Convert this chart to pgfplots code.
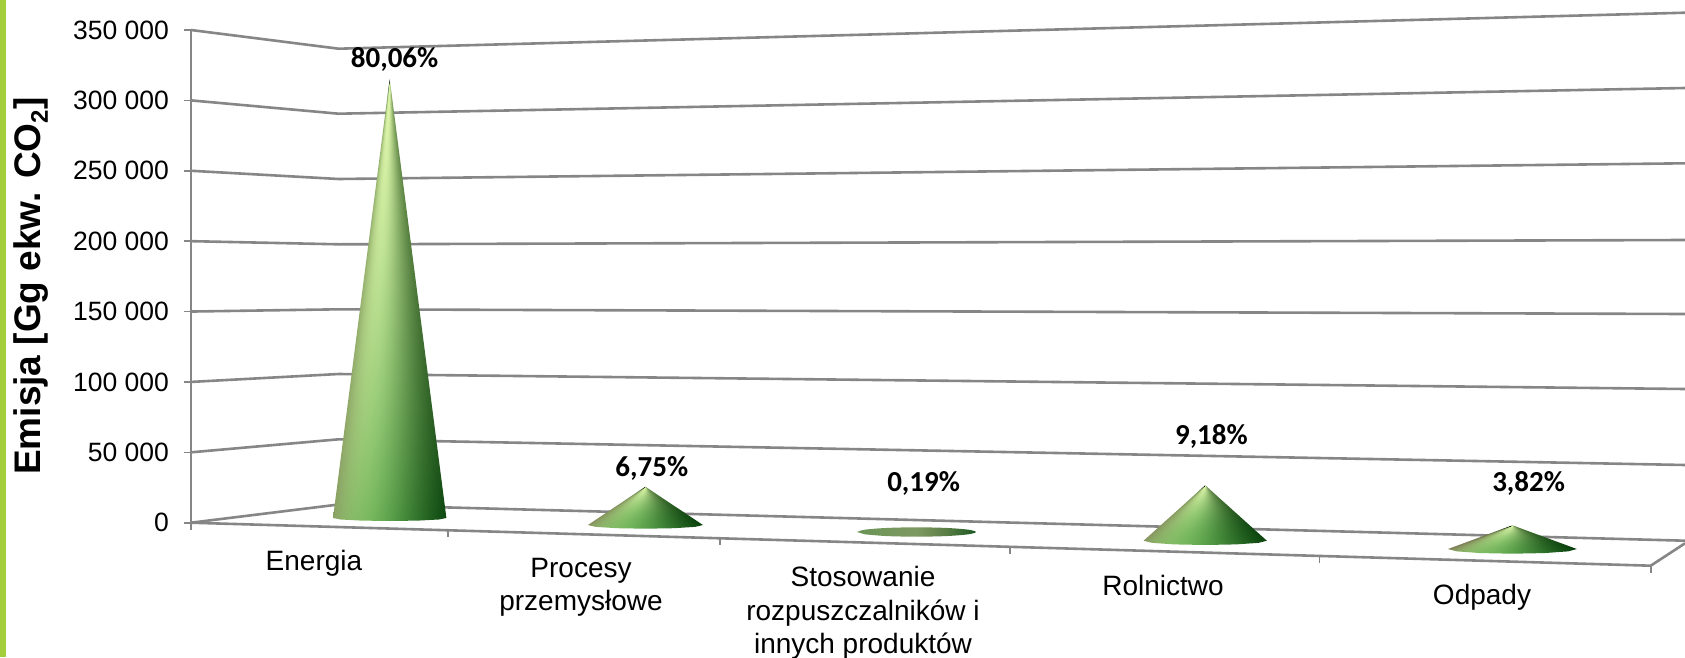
\documentclass[border=0pt]{standalone}
\usepackage{fontspec}
\setmainfont{Liberation Sans}
\newfontfamily\calibri{Carlito}
\usepackage{pgfplots}
\pgfplotsset{compat=1.18}
\definecolor{gridc}{HTML}{868686}
\definecolor{stripe}{HTML}{A4CF3C}
\def\chan#1#2#3#4#5#6{1 index #2 mul #1 add 1 index 3 index #4 mul #3 add mul add 1 index dup mul 3 index #6 mul #5 add mul add 3 1 roll }
\def\conecolours{%
\chan{0.44}{0.43}{-0.245}{0.145}{-0.145}{-0.205}
\chan{0.70}{0.26}{-0.175}{0.085}{-0.245}{-0.065}
\chan{0.35}{0.32}{-0.165}{0.085}{-0.125}{-0.165}
pop pop}
\pgfdeclarefunctionalshading{coneshade}{\pgfpointorigin}{\pgfpoint{100bp}{100bp}}{}{
25 sub 50 div exch 50 sub 25 div 1 index 1.001 exch sub div
dup dup mul -0.3 mul 0.3 add add
exch dup 1.4 exch 0.4 mul sub mul exch
\conecolours
}
\pgfdeclarefunctionalshading{squatshade}{\pgfpointorigin}{\pgfpoint{100bp}{100bp}}{}{
25 sub 50 div exch 50 sub 25 div 1 index 1.001 exch sub div
dup dup mul -0.3 mul 0.3 add add
exch dup mul exch
\conecolours
}
\pgfdeclarehorizontalshading{flatshade}{100bp}{
rgb(0bp)=(0.42,0.58,0.34);
rgb(25bp)=(0.42,0.58,0.34);
rgb(50bp)=(0.49,0.60,0.38);
rgb(62bp)=(0.36,0.50,0.28);
rgb(75bp)=(0.10,0.34,0.12);
rgb(100bp)=(0.10,0.34,0.12)}
\newcommand{\lab}{\fontsize{26.5}{32}\selectfont}
\newcommand{\cat}{\fontsize{28}{33.5}\selectfont}
\newcommand{\pct}{\calibri\bfseries\fontsize{29}{34}\selectfont}
\begin{document}
\begin{tikzpicture}
\useasboundingbox (-191pt,-134.3pt) rectangle (1494pt,522.7pt);
\begin{axis}[
  scale only axis, width=1494pt, height=492.7pt,
  xmin=191, xmax=1685, ymin=0, ymax=350000,
  clip=false,
  axis x line=none, axis y line=left,
  axis line style={-, draw=gridc, line width=2pt},
  ytick={0,50000,100000,150000,200000,250000,300000,350000},
  yticklabels={0,50 000,100 000,150 000,200 000,250 000,300 000,350 000},
  scaled y ticks=false,
  tick align=outside, major tick length=7pt,
  y tick style={draw=gridc, line width=1.6pt},
  y tick label style={font=\lab, xshift=-11.5pt},
  ylabel={\bfseries Emisja [Gg ekw. CO\raisebox{-0.2em}{\fontsize{24}{24}\selectfont 2}]},
  every axis y label/.style={at={(axis cs:31,168000)}, rotate=90, anchor=center, font=\bfseries\fontsize{37}{40}\selectfont},
]
% side stripe
\addplot[fill=stripe, draw=none] coordinates {(0,371310) (6,371310) (6,-95403) (0,-95403)} -- cycle;
% perspective gridlines
\addplot[gridc, line width=2.6pt] coordinates {(191,350000) (338.6,336715) (1685,362289)};
\addplot[gridc, line width=2.6pt] coordinates {(191,300000) (338.6,290541) (1685,308798)};
\addplot[gridc, line width=2.6pt] coordinates {(191,250000) (338.6,244154) (1685,255307)};
\addplot[gridc, line width=2.6pt] coordinates {(191,200000) (338.6,197767) (1685,200822)};
\addplot[gridc, line width=2.6pt] coordinates {(191,150000) (338.6,151593) (1685,148254)};
\addplot[gridc, line width=2.6pt] coordinates {(191,100000) (338.6,105632) (1685,94976)};
\addplot[gridc, line width=2.6pt] coordinates {(191,50000) (338.6,59245) (1685,40988)};
\addplot[gridc, line width=2.6pt] coordinates {(191,0) (338.6,12929) (1685,-12787)};
% floor front edge
\addplot[gridc, line width=2.6pt] coordinates {(191,0) (1650.7,-30546) (1685,-14634)};
% x ticks
\addplot[gridc, line width=1.6pt] coordinates {(191,0) (191,-5000)};
\addplot[gridc, line width=1.6pt] coordinates {(448,-5400) (448,-10400)};
\addplot[gridc, line width=1.6pt] coordinates {(720,-11080) (720,-16080)};
\addplot[gridc, line width=1.6pt] coordinates {(1010,-17120) (1010,-22120)};
\addplot[gridc, line width=1.6pt] coordinates {(1319.6,-23650) (1319.6,-28650)};
\addplot[gridc, line width=1.6pt] coordinates {(1650.7,-30546) (1650.7,-35546)};
% cones
\addplot[draw=none, shade, shading=coneshade] coordinates {(389.7,314978) (333,3339) (340.6,2273) (361.35,1492) (389.7,1208) (418.05,1492) (438.8,2273) (446.4,3339)} -- cycle;
\addplot[draw=none, shade, shading=squatshade] coordinates {(645.4,25573) (587.9,-1634) (595.6,-2948) (616.65,-3907) (645.4,-4262) (674.15,-3907) (695.2,-2948) (702.9,-1634)} -- cycle;
\addplot[draw=none, shade, shading=flatshade, smooth] coordinates {(857,-6606) (865,-4937) (886.75,-3715) (916.5,-3268) (946.25,-3715) (968,-4937) (976,-6606) (968,-8276) (946.25,-9498) (916.5,-9945) (886.75,-9498) (865,-8276)} -- cycle;
\addplot[draw=none, shade, shading=squatshade] coordinates {(1205.2,26568) (1143.6,-12787) (1151.9,-14314) (1174.4,-15415) (1205.2,-15841) (1236,-15415) (1258.5,-14314) (1266.8,-12787)} -- cycle;
\addplot[draw=none, shade, shading=squatshade] coordinates {(1512.4,-1847) (1448,-18683) (1456.6,-20352) (1480.2,-21574) (1512.4,-22021) (1544.6,-21574) (1568.2,-20352) (1576.8,-18683)} -- cycle;
% percentage labels
\node[font=\pct] at (axis cs:394.6,329399) {80,06\%};
\node[font=\pct] at (axis cs:651.8,38857) {6,75\%};
\node[font=\pct] at (axis cs:923.6,28202) {0,19\%};
\node[font=\pct] at (axis cs:1211.4,61092) {9,18\%};
\node[font=\pct] at (axis cs:1528.6,27989) {3,82\%};
% category labels
\node[font=\cat, align=center] at (axis cs:314,-28700) {Energia};
\node[font=\cat, align=center] at (axis cs:581,-45700) {Procesy\\przemysłowe};
\node[font=\cat, align=center] at (axis cs:863,-64000) {Stosowanie\\rozpuszczalników i\\innych produktów};
\node[font=\cat, align=center] at (axis cs:1163,-44500) {Rolnictwo};
\node[font=\cat, align=center] at (axis cs:1482,-52800) {Odpady};
\end{axis}
\end{tikzpicture}
\end{document}
